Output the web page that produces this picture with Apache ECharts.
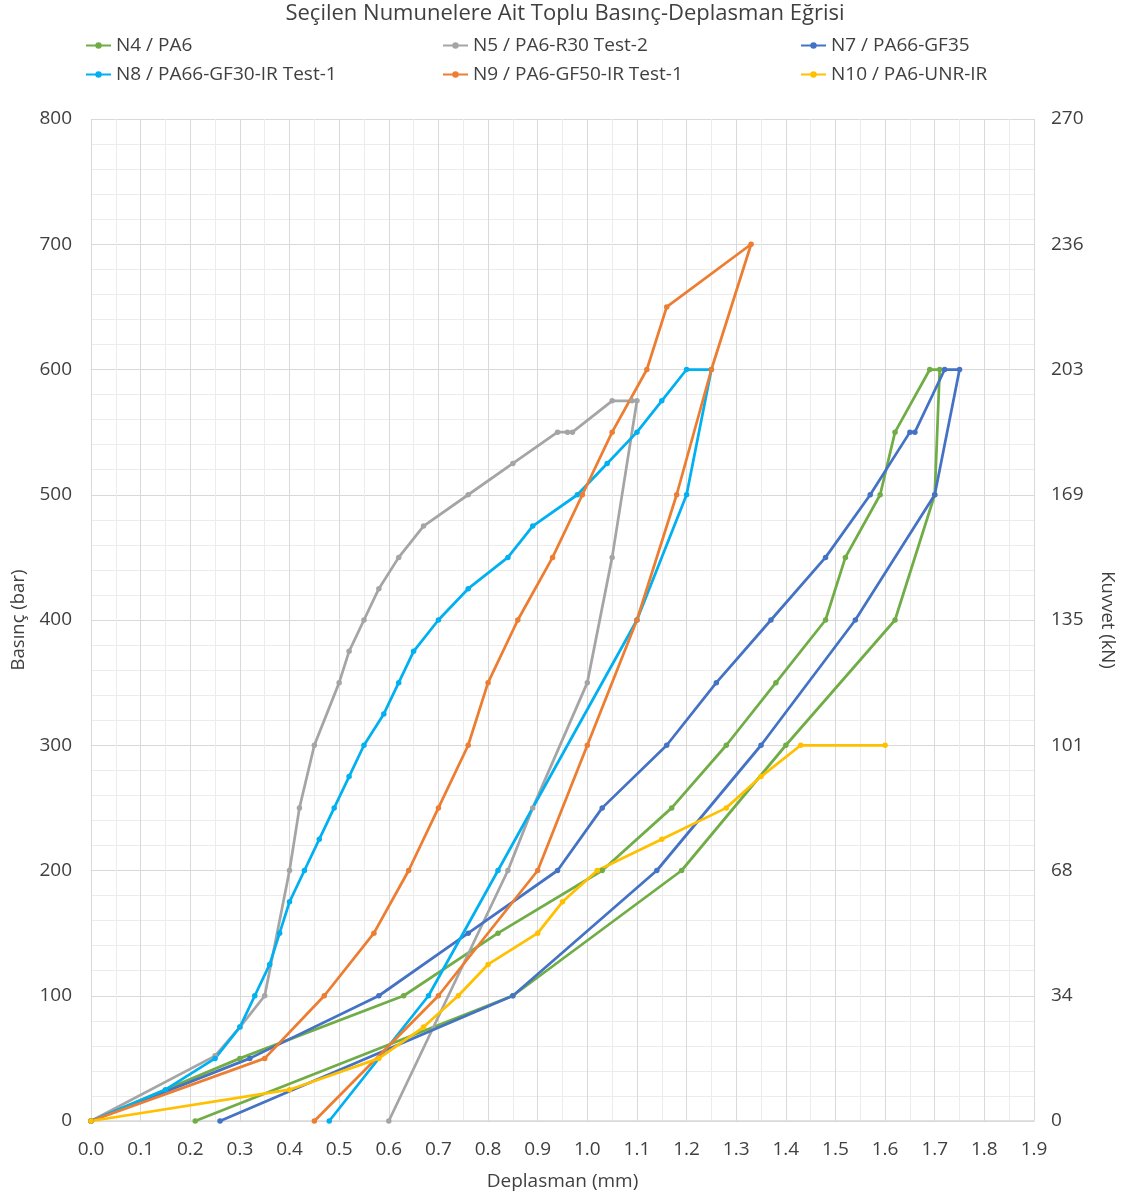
<!DOCTYPE html>
<html>
<head>
<meta charset="utf-8">
<title>Seçilen Numunelere Ait Toplu Basınç-Deplasman Eğrisi</title>
<script src="https://cdn.jsdelivr.net/npm/echarts@6/dist/echarts.min.js"></script>
<style>
  html, body { margin: 0; padding: 0; background: #ffffff; }
  #chart { width: 1130px; height: 1196px; }
</style>
</head>
<body>
<div id="chart"></div>
<script>
// Displacement (mm) and pressure (bar) readings for each specimen, loading then unloading
const n4X  = [0, 0.30, 0.63, 0.82, 1.03, 1.17, 1.28, 1.38, 1.48, 1.52, 1.59, 1.62, 1.69, 1.71, 1.70, 1.62, 1.40, 1.19, 0.85, 0.21];
const n4Y  = [0, 50, 100, 150, 200, 250, 300, 350, 400, 450, 500, 550, 600, 600, 500, 400, 300, 200, 100, 0];

const n5X  = [0, 0.25, 0.30, 0.35, 0.40, 0.42, 0.45, 0.50, 0.52, 0.55, 0.58, 0.62, 0.67, 0.76, 0.85, 0.94, 0.96, 0.97, 1.05, 1.09, 1.10, 1.05, 1.00, 0.89, 0.84, 0.60];
const n5Y  = [0, 52, 75, 100, 200, 250, 300, 350, 375, 400, 425, 450, 475, 500, 525, 550, 550, 550, 575, 575, 575, 450, 350, 250, 200, 0];

const n7X  = [0, 0.32, 0.58, 0.76, 0.94, 1.03, 1.16, 1.26, 1.37, 1.48, 1.57, 1.65, 1.66, 1.72, 1.75, 1.70, 1.54, 1.35, 1.14, 0.85, 0.26];
const n7Y  = [0, 50, 100, 150, 200, 250, 300, 350, 400, 450, 500, 550, 550, 600, 600, 500, 400, 300, 200, 100, 0];

const n8X  = [0, 0.15, 0.25, 0.30, 0.33, 0.36, 0.38, 0.40, 0.43, 0.46, 0.49, 0.52, 0.55, 0.59, 0.62, 0.65, 0.70, 0.76, 0.84, 0.89, 0.98, 1.04, 1.10, 1.15, 1.20, 1.25, 1.20, 1.10, 0.82, 0.68, 0.48];
const n8Y  = [0, 25, 50, 75, 100, 125, 150, 175, 200, 225, 250, 275, 300, 325, 350, 375, 400, 425, 450, 475, 500, 525, 550, 575, 600, 600, 500, 400, 200, 100, 0];

const n9X  = [0, 0.35, 0.47, 0.57, 0.64, 0.70, 0.76, 0.80, 0.86, 0.93, 0.99, 1.05, 1.12, 1.16, 1.33, 1.25, 1.18, 1.10, 1.00, 0.90, 0.70, 0.45];
const n9Y  = [0, 50, 100, 150, 200, 250, 300, 350, 400, 450, 500, 550, 600, 650, 700, 600, 500, 400, 300, 200, 100, 0];

const n10X = [0, 0.40, 0.58, 0.67, 0.74, 0.80, 0.90, 0.95, 1.02, 1.15, 1.28, 1.35, 1.43, 1.60];
const n10Y = [0, 25, 50, 75, 100, 125, 150, 175, 200, 225, 250, 275, 300, 300];

const seriesNames  = ['N4 / PA6', 'N5 / PA6-R30 Test-2', 'N7 / PA66-GF35', 'N8 / PA66-GF30-IR Test-1', 'N9 / PA6-GF50-IR Test-1', 'N10 / PA6-UNR-IR'];
const seriesColors = ['#70AD47', '#A5A5A5', '#4472C4', '#00B0F0', '#ED7D31', '#FFC000'];

// Right axis: force (kN) labels matching the pressure ticks 0..800 bar
const forceTicks = [0, 34, 68, 101, 135, 169, 203, 236, 270];

const xs = [n4X, n5X, n7X, n8X, n9X, n10X];
const ys = [n4Y, n5Y, n7Y, n8Y, n9Y, n10Y];

const FONT = 'Open Sans';
const TEXT = '#404040';

function pairs(x, y) { return x.map((v, i) => [v, y[i]]); }

const series = seriesNames.map((name, i) => ({
  name: name,
  type: 'line',
  data: pairs(xs[i], ys[i]),
  symbol: 'circle',
  symbolSize: 5.5,
  showSymbol: true,
  smooth: false,
  color: seriesColors[i],
  lineStyle: { width: 2.75, color: seriesColors[i] },
  itemStyle: { color: seriesColors[i] },
  emphasis: { disabled: true },
  animation: false
}));

// Legend laid out as a 3 x 2 grid of single-item legends
const legendPos = [[85, 36], [442, 36], [800, 36], [85, 65], [442, 65], [800, 65]];
const legends = seriesNames.map((name, i) => ({
  data: [name],
  left: legendPos[i][0],
  top: legendPos[i][1],
  padding: 0,
  itemWidth: 25,
  itemHeight: 8,
  itemGap: 2,
  textStyle: { fontFamily: FONT, fontSize: 19, color: TEXT },
  selectedMode: false
}));

const chart = echarts.init(document.getElementById('chart'), null, { renderer: 'canvas' });
chart.setOption({
  backgroundColor: '#ffffff',
  animation: false,
  title: {
    text: 'Seçilen Numunelere Ait Toplu Basınç-Deplasman Eğrisi',
    left: 'center',
    top: -2,
    textStyle: { fontFamily: FONT, fontSize: 22, fontWeight: 'normal', color: TEXT }
  },
  legend: legends,
  grid: { left: 91, right: 96, top: 119, bottom: 75, containLabel: false },
  xAxis: {
    type: 'value',
    min: 0, max: 1.9, interval: 0.1,
    name: 'Deplasman (mm)',
    nameLocation: 'middle',
    nameGap: 51,
    nameTextStyle: { fontFamily: FONT, fontSize: 19, color: TEXT },
    axisLine: { show: true, lineStyle: { color: '#d9d9d9', width: 1.5 } },
    axisTick: { show: false },
    axisLabel: { fontFamily: FONT, fontSize: 19, color: TEXT, margin: 19, formatter: v => v.toFixed(1) },
    splitLine: { show: true, lineStyle: { color: '#d9d9d9', width: 1 } },
    minorTick: { show: false, splitNumber: 2 },
    minorSplitLine: { show: true, lineStyle: { color: '#ececec', width: 1 } }
  },
  yAxis: [
    {
      type: 'value',
      position: 'left',
      min: 0, max: 800, interval: 100,
      name: 'Basınç (bar)',
      nameLocation: 'middle',
      nameGap: 62,
      nameTextStyle: { fontFamily: FONT, fontSize: 18.5, color: TEXT },
      axisLine: { show: false },
      axisTick: { show: false },
      axisLabel: { fontFamily: FONT, fontSize: 19, color: TEXT, margin: 19 },
      splitLine: { show: true, lineStyle: { color: '#d9d9d9', width: 1 } },
      minorTick: { show: false, splitNumber: 5 },
      minorSplitLine: { show: true, lineStyle: { color: '#ececec', width: 1 } }
    },
    {
      type: 'value',
      position: 'right',
      min: 0, max: 800, interval: 100,
      name: 'Kuvvet (kN)',
      nameLocation: 'middle',
      nameRotate: -90,
      nameGap: 64,
      nameTextStyle: { fontFamily: FONT, fontSize: 18.5, color: TEXT },
      axisLine: { show: false },
      axisTick: { show: false },
      axisLabel: {
        fontFamily: FONT, fontSize: 19, color: TEXT, margin: 17,
        formatter: v => String(forceTicks[Math.round(v / 100)])
      },
      splitLine: { show: false }
    }
  ],
  series: series
});
</script>
</body>
</html>
